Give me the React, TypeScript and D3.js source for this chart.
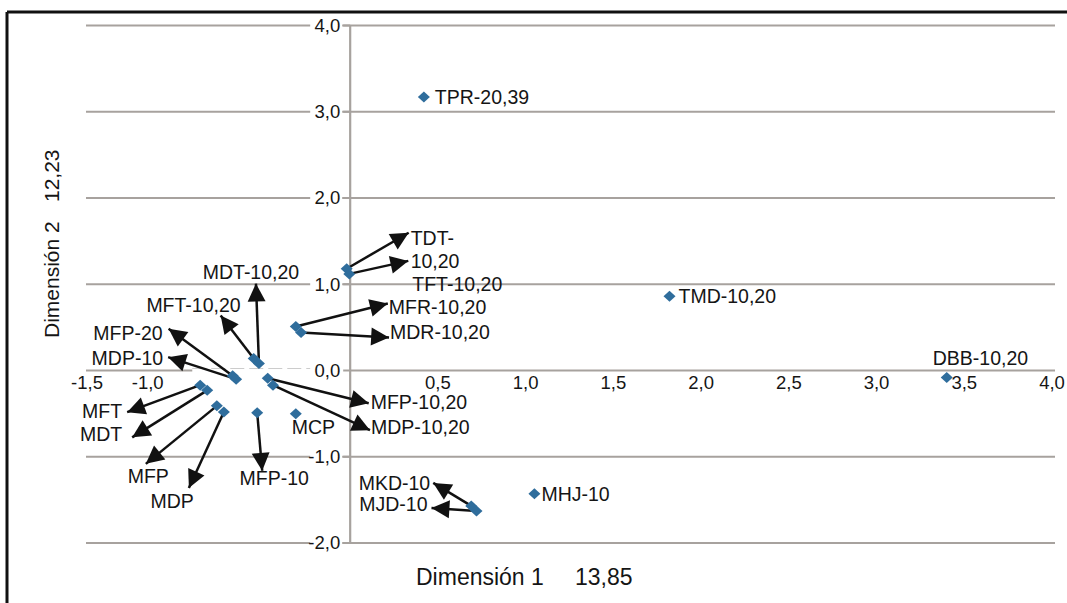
import React from "react"
import * as d3 from "d3"

// point names and coordinates on the two dimensions
const names = [
  "TPR-20,39", "TDT-10,20", "TFT-10,20", "MFR-10,20", "MDR-10,20",
  "MFT-10,20", "MDT-10,20", "MFP-20", "MDP-10", "MFT", "MDT", "MFP", "MDP",
  "MFP-10", "MCP", "MFP-10,20", "MDP-10,20", "TMD-10,20", "DBB-10,20",
  "MHJ-10", "MKD-10", "MJD-10",
]
const dim1 = [
  0.42, -0.02, -0.005, -0.31, -0.28, -0.55, -0.52, -0.67, -0.65, -0.855, -0.815,
  -0.76, -0.72, -0.53, -0.31, -0.47, -0.44, 1.82, 3.4, 1.05, 0.69, 0.72,
]
const dim2 = [
  3.17, 1.18, 1.12, 0.51, 0.44, 0.14, 0.08, -0.06, -0.1, -0.17, -0.23,
  -0.41, -0.48, -0.49, -0.5, -0.09, -0.17, 0.86, -0.08, -1.43, -1.57, -1.63,
]

const xTicks = [-1.5, -1.0, 0.5, 1.0, 1.5, 2.0, 2.5, 3.0, 3.5, 4.0]
const yTicks = [4, 3, 2, 1, 0, -1, -2]

const xTitle = ["Dimensión 1", "13,85"]
const yTitle = ["Dimensión 2", "12,23"]

// label placement, pixel offsets from each point: [labelDx, labelDy, anchor, arrowDx, arrowDy]
const notes: [number, number, string, number | null, number | null][] = [
  [11, 0, "start", null, null],
  [64, -31, "start", 62, -36],
  [63, 10, "start", 59, -13],
  [93, -19, "start", 92, -23],
  [89, 0, "start", 88, 5],
  [-13, -53, "end", -33, -43],
  [-8, -91, "middle", -3, -80],
  [-70, -43, "end", -64, -47],
  [-73, -21, "end", -68, -22],
  [-78, 26, "end", -73, 27],
  [-85, 44, "end", -75, 47],
  [-48, 70, "end", -71, 58],
  [-30, 89, "end", -35, 76],
  [17, 65, "middle", 5, 58],
  [-4, 14, "start", null, null],
  [103, 24, "start", 101, 25],
  [98, 42, "start", 97, 45],
  [9, 0, "start", null, null],
  [-14, -19, "start", null, null],
  [7, 0, "start", null, null],
  [-41, -23, "end", -38, -23],
  [-49, -7, "end", -45, -3],
]

const fmt = (v: number) => v.toFixed(1).replace(".", ",")

export default function App() {
  const width = 1067
  const height = 603
  const x = d3.scaleLinear().domain([-1.5, 4]).range([87, 1052])
  const y = d3.scaleLinear().domain([-2, 4]).range([543, 25.5])
  const font = "'Liberation Sans', Arial, sans-serif"
  const grid = "#a7a29e"
  const ink = "#151515"
  const diamond = "M0,-5.5L6,0L0,5.5L-6,0Z"
  // the -1,0 label sits left of its tick in the original
  const xLabelShift = (t: number) => (t === -1 ? -27 : 0)

  return (
    <svg width={width} height={height} style={{ position: "absolute", left: 0, top: 0, background: "#fff" }}
      fontFamily={font}>
      <defs>
        <marker id="head" markerUnits="userSpaceOnUse" markerWidth="20" markerHeight="20"
          viewBox="-18 -9 19 18" refX="0" refY="0" orient="auto">
          <path d="M0,0L-17,-8.5L-17,8.5Z" fill="#111" />
        </marker>
      </defs>

      {/* frame on top and left */}
      <line x1={7} x2={width} y1={12} y2={12} stroke="#111" strokeWidth={3} />
      <line x1={7} x2={7} y1={12} y2={height} stroke="#111" strokeWidth={3} />

      {/* horizontal grid; the zero line is broken left of the axis in the original */}
      {yTicks.filter((t) => t !== 0).map((t) => (
        <line key={t} x1={x(-1.5) - 1} x2={x(4) + 3} y1={y(t)} y2={y(t)} stroke={grid} strokeWidth={2.2} />
      ))}
      <line x1={x(-1.5) - 1} x2={x(-0.9)} y1={y(0)} y2={y(0)} stroke={grid} strokeWidth={2.2} />
      <line x1={x(-0.9)} x2={x(-0.2)} y1={y(0) - 2} y2={y(0) - 2} stroke="#ccc" strokeWidth={1.2}
        strokeDasharray="14 5" />
      <line x1={x(0)} x2={x(4) + 3} y1={y(0)} y2={y(0)} stroke={grid} strokeWidth={2.2} />
      {/* vertical axis */}
      <line x1={x(0)} x2={x(0)} y1={y(4)} y2={y(-2)} stroke={grid} strokeWidth={2.2} />

      {/* y tick labels */}
      {yTicks.map((t) => (
        <g key={t} transform={`translate(${x(0)},${y(t)})`}>
          <rect x={-40} y={-10} width={32} height={20} fill="#fff" />
          <line x1={-7} x2={0} y1={0} y2={0} stroke={grid} strokeWidth={2} />
          <text x={-10} y={0} dy="0.35em" textAnchor="end" fontSize={18.5} fill={ink}>{fmt(t)}</text>
        </g>
      ))}

      {/* x tick labels */}
      {xTicks.map((t) => (
        <text key={t} x={x(t) + xLabelShift(t)} y={y(0) + 12} dy="0.35em" textAnchor="middle" fontSize={18.5}
          fill={ink}>
          {fmt(t)}
        </text>
      ))}

      {/* arrows */}
      {names.map((n, i) => {
        const [, , , ax, ay] = notes[i]
        if (ax === null || ay === null) return null
        const px = x(dim1[i])
        const py = y(dim2[i])
        return (
          <line key={n} x1={px} y1={py} x2={px + ax} y2={py + ay} stroke="#111" strokeWidth={2.5}
            markerEnd="url(#head)" />
        )
      })}

      {/* points */}
      {names.map((n, i) => (
        <path key={n} d={diamond} transform={`translate(${x(dim1[i])},${y(dim2[i])})`} fill="#2f6d9c" />
      ))}

      {/* point labels */}
      {names.map((n, i) => {
        const [dx, dy, anchor] = notes[i]
        const px = x(dim1[i]) + dx
        const py = y(dim2[i]) + dy
        const lines = n === "TDT-10,20" ? ["TDT-", "10,20"] : [n]
        return (
          <text key={n} x={px} y={py} textAnchor={anchor} fontSize={19.5} fill={ink}>
            {lines.map((l, k) => (
              <tspan key={k} x={px} dy={k === 0 ? "0.35em" : 23}>{l}</tspan>
            ))}
          </text>
        )
      })}

      {/* axis titles */}
      <text x={416} y={577} dy="0.35em" fontSize={23} fill={ink}>{xTitle[0]}</text>
      <text x={575} y={577} dy="0.35em" fontSize={23} fill={ink}>{xTitle[1]}</text>
      <text transform="translate(52,338) rotate(-90)" dy="0.35em" fontSize={21} fill={ink}>{yTitle[0]}</text>
      <text transform="translate(52,202) rotate(-90)" dy="0.35em" fontSize={21} fill={ink}>{yTitle[1]}</text>
    </svg>
  )
}
